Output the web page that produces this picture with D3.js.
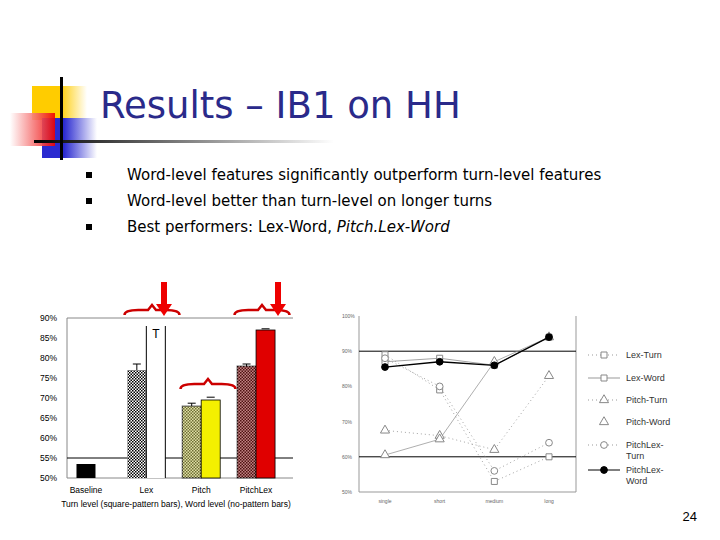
<!DOCTYPE html>
<html><head><meta charset="utf-8">
<script src="https://cdn.jsdelivr.net/npm/d3@7"></script>
<style>body{margin:0;background:#fff}svg{display:block;font-family:Arial,"Liberation Sans",sans-serif}</style>
</head><body><div id="slide"></div>
<script>
// Bar chart data
const barGroups = ["Baseline", "Lex", "Pitch", "PitchLex"];
const turnValues = [53.5, 77, 68, 78];
const wordValues = [null, 88, 69.5, 87];
const turnErr = [0, 1.5, 0.7, 0.5];
const wordErr = [0, 0, 0.7, 0.3];
const barColors = ["#000", "#fff", "#f4f000", "#e00000"];
const turnColors = ["#000", "#bbb", "#c8c860", "#902020"];
const barTicks = [50, 55, 60, 65, 70, 75, 80, 85, 90];

// Line chart data
const lenCats = ["single", "short", "medium", "long"];
const lexTurn = [89, 79, 53, 60];
const lexWord = [87, 88, 86, 94];
const pitchTurn = [67.5, 66, 62, 83];
const pitchWord = [60.5, 65, 87, 94];
const pitchLexTurn = [88, 80, 56, 64];
const pitchLexWord = [85.5, 87, 86, 94];
const lineTicks = [50, 60, 70, 80, 90, 100];

const bullets = [
  [{t: "Word-level features significantly outperform turn-level features"}],
  [{t: "Word-level better than turn-level on longer turns"}],
  [{t: "Best performers: Lex-Word, "}, {t: "Pitch.Lex-Word", i: true}]
];

const svg = d3.select("#slide").append("svg").attr("width", 720).attr("height", 540);
const defs = svg.append("defs");

// Decoration
const gy = defs.append("linearGradient").attr("id", "gy");
gy.append("stop").attr("offset", 0.5).attr("stop-color", "#ffcc00");
gy.append("stop").attr("offset", 1).attr("stop-color", "#fff");
const gb = defs.append("linearGradient").attr("id", "gb");
gb.append("stop").attr("offset", 0.4).attr("stop-color", "#2a2ad0");
gb.append("stop").attr("offset", 1).attr("stop-color", "#fff");
const gr = defs.append("linearGradient").attr("id", "gr").attr("x1", 1).attr("x2", 0);
gr.append("stop").attr("offset", 0).attr("stop-color", "#ee0000");
gr.append("stop").attr("offset", 1).attr("stop-color", "#fff");
const gl = defs.append("linearGradient").attr("id", "gl");
gl.append("stop").attr("offset", 0).attr("stop-color", "#000");
gl.append("stop").attr("offset", 1).attr("stop-color", "#fff");

svg.append("rect").attr("x", 32).attr("y", 86).attr("width", 55).attr("height", 34).attr("fill", "url(#gy)");
svg.append("rect").attr("x", 42).attr("y", 118).attr("width", 55).attr("height", 40).attr("fill", "url(#gb)");
svg.append("rect").attr("x", 10).attr("y", 113).attr("width", 45).attr("height", 33).attr("fill", "url(#gr)").attr("opacity", 0.9);
svg.append("rect").attr("x", 34).attr("y", 140).attr("width", 300).attr("height", 3).attr("fill", "url(#gl)");
svg.append("rect").attr("x", 60).attr("y", 77).attr("width", 3).attr("height", 83).attr("fill", "#000");

svg.append("text").attr("x", 100).attr("y", 118).attr("fill", "#2a2a8a")
  .style("font-family", "'DejaVu Sans',sans-serif").style("font-size", "37px").text("Results – IB1 on HH");

bullets.forEach((b, k) => {
  const y = 180 + k * 26;
  svg.append("rect").attr("x", 86).attr("y", y - 8).attr("width", 6).attr("height", 6).attr("fill", "#000");
  const t = svg.append("text").attr("x", 127).attr("y", y)
    .style("font-family", "'DejaVu Sans',sans-serif").style("font-size", "15px");
  b.forEach(p => t.append("tspan").style("font-style", p.i ? "italic" : null).text(p.t));
});

// Bar chart
const by = d3.scaleLinear().domain([50, 90]).range([478, 318]);
const bx = d3.scaleBand().domain(barGroups).range([67, 293]).paddingInner(0.08).paddingOuter(0.1);
const bw = 19;
const pat = defs.append("pattern").attr("id", "chk").attr("width", 3).attr("height", 3).attr("patternUnits", "userSpaceOnUse");
pat.append("rect").attr("width", 3).attr("height", 3).attr("fill", "#fff");
pat.append("rect").attr("width", 1.5).attr("height", 1.5).attr("fill", "#000");
pat.append("rect").attr("x", 1.5).attr("y", 1.5).attr("width", 1.5).attr("height", 1.5).attr("fill", "#000");

const bg = svg.append("g").style("font-size", "8.5px");
bg.append("line").attr("x1", 67).attr("x2", 67).attr("y1", 318).attr("y2", 478).attr("stroke", "#888");
bg.append("line").attr("x1", 67).attr("x2", 293).attr("y1", 318).attr("y2", 318).attr("stroke", "#888");
bg.append("line").attr("x1", 67).attr("x2", 293).attr("y1", 478).attr("y2", 478).attr("stroke", "#888");
bg.append("line").attr("x1", 67).attr("x2", 293).attr("y1", by(55)).attr("y2", by(55)).attr("stroke", "#000");
barTicks.forEach(v => bg.append("text").attr("x", 40).attr("y", by(v) + 3).text(v + "%"));

barGroups.forEach((g, i) => {
  const x0 = bx(g) + (i === 0 ? 4 : 0);
  const tv = turnValues[i];
  bg.append("rect").attr("x", x0).attr("y", by(tv)).attr("width", bw).attr("height", by(50) - by(tv))
    .attr("fill", i === 0 ? "#000" : "url(#chk)");
  if (i > 0) {
    bg.append("rect").attr("x", x0).attr("y", by(tv)).attr("width", bw).attr("height", by(50) - by(tv))
      .attr("fill", turnColors[i]).attr("opacity", i === 1 ? 0 : 0.55).attr("stroke", "#000").attr("stroke-opacity", 1);
    bg.append("line").attr("x1", x0 + bw / 2).attr("x2", x0 + bw / 2).attr("y1", by(tv)).attr("y2", by(tv + turnErr[i])).attr("stroke", "#000");
    bg.append("line").attr("x1", x0 + bw / 2 - 4).attr("x2", x0 + bw / 2 + 4).attr("y1", by(tv + turnErr[i])).attr("y2", by(tv + turnErr[i])).attr("stroke", "#000");
  }
  const wv = wordValues[i];
  if (wv != null) {
    const x1 = x0 + bw;
    if (i === 1) {
      bg.append("rect").attr("x", x1).attr("y", by(wv)).attr("width", bw).attr("height", by(50) - by(wv)).attr("fill", "#fff");
      bg.append("line").attr("x1", x1).attr("x2", x1).attr("y1", by(wv)).attr("y2", 478).attr("stroke", "#000");
      bg.append("line").attr("x1", x1 + bw).attr("x2", x1 + bw).attr("y1", by(wv)).attr("y2", 478).attr("stroke", "#000");
      bg.append("text").attr("x", x1 + bw / 2).attr("y", by(wv) + 12).attr("text-anchor", "middle").attr("fill", "#000").style("font-size", "12px").text("T");
    } else {
      bg.append("rect").attr("x", x1).attr("y", by(wv)).attr("width", bw).attr("height", by(50) - by(wv))
        .attr("fill", barColors[i]).attr("stroke", "#000").attr("stroke-width", 0.8);
      bg.append("line").attr("x1", x1 + bw / 2 - 4).attr("x2", x1 + bw / 2 + 4).attr("y1", by(wv + wordErr[i])).attr("y2", by(wv + wordErr[i])).attr("stroke", "#000");
    }
  }
  bg.append("text").attr("x", bx(g) + (i === 0 ? bw / 2 + 4 : bw)).attr("y", 493).attr("text-anchor", "middle").text(g);
});
bg.append("text").attr("x", 176).attr("y", 507).attr("text-anchor", "middle")
  .text("Turn level (square-pattern bars), Word level (no-pattern bars)");

// red brackets and arrows
function brace(cx, y, w) {
  svg.append("path").attr("fill", "none").attr("stroke", "#c00").attr("stroke-width", 2.5)
    .attr("d", `M${cx - w / 2},${y + 5} Q${cx - w / 2},${y} ${cx - w / 4},${y} L${cx - 4},${y} L${cx},${y - 5} L${cx + 4},${y} L${cx + w / 4},${y} Q${cx + w / 2},${y} ${cx + w / 2},${y + 5}`);
}
brace(152, 310, 55); brace(262, 310, 55); brace(208, 384, 55);
[164, 278].forEach(x => {
  svg.append("rect").attr("x", x - 3).attr("y", 282).attr("width", 6).attr("height", 24).attr("fill", "#e00");
  svg.append("path").attr("d", `M${x - 8},304 L${x + 8},304 L${x},316 Z`).attr("fill", "#e00");
});

// Line chart
const lx = d3.scalePoint().domain(lenCats).range([385, 549]);
const ly = d3.scaleLinear().domain([50, 100]).range([492, 316]);
const lg = svg.append("g").style("font-size", "5px").attr("fill", "#666");
lg.append("line").attr("x1", 359).attr("x2", 359).attr("y1", 316).attr("y2", 492).attr("stroke", "#999");
lg.append("line").attr("x1", 576).attr("x2", 576).attr("y1", 316).attr("y2", 492).attr("stroke", "#999");
lg.append("line").attr("x1", 359).attr("x2", 576).attr("y1", 492).attr("y2", 492).attr("stroke", "#999");
[60, 90].forEach(v => lg.append("line").attr("x1", 359).attr("x2", 576).attr("y1", ly(v)).attr("y2", ly(v)).attr("stroke", "#000"));
lineTicks.forEach(v => lg.append("text").attr("x", 342).attr("y", ly(v) + 2).text(v + "%"));
lenCats.forEach(c => lg.append("text").attr("x", lx(c)).attr("y", 503).attr("text-anchor", "middle").text(c));

const series = [
  {name: "Lex-Turn", vals: lexTurn, dash: "1,3", line: true, m: "square", fill: "#fff", stroke: "#888"},
  {name: "Lex-Word", vals: lexWord, dash: null, line: true, m: "square", fill: "#fff", stroke: "#888"},
  {name: "Pitch-Turn", vals: pitchTurn, dash: "1,3", line: true, m: "triangle", fill: "#fff", stroke: "#888"},
  {name: "Pitch-Word", vals: pitchWord, dash: null, line: false, m: "triangle", fill: "#fff", stroke: "#888"},
  {name: "PitchLex-Turn", vals: pitchLexTurn, dash: "1,3", line: true, m: "circle", fill: "#fff", stroke: "#888"},
  {name: "PitchLex-Word", vals: pitchLexWord, dash: null, line: true, m: "circle", fill: "#000", stroke: "#000"}
];
const sym = {square: d3.symbolSquare, triangle: d3.symbolTriangle, circle: d3.symbolCircle};
const lineGen = d3.line().x((d, i) => lx(lenCats[i])).y(d => ly(d));
// faint line through Pitch-Word points as in picture
lg.append("path").attr("d", lineGen(pitchWord)).attr("fill", "none").attr("stroke", "#999").attr("stroke-width", 0.8);
series.forEach(s => {
  if (s.line) lg.append("path").attr("d", lineGen(s.vals)).attr("fill", "none")
    .attr("stroke", s.stroke === "#000" ? "#000" : "#999").attr("stroke-width", s.stroke === "#000" ? 1.3 : 0.9)
    .attr("stroke-dasharray", s.dash);
  s.vals.forEach((v, i) => lg.append("path").attr("d", d3.symbol(sym[s.m], 36)())
    .attr("transform", `translate(${lx(lenCats[i])},${ly(v)})`).attr("fill", s.fill).attr("stroke", s.stroke));
});
// legend
const legY = [355, 378, 400, 422, 445, 470];
const legLabels = [["Lex-Turn"], ["Lex-Word"], ["Pitch-Turn"], ["Pitch-Word"], ["PitchLex-", "Turn"], ["PitchLex-", "Word"]];
series.forEach((s, k) => {
  const y = legY[k];
  if (s.line) lg.append("line").attr("x1", 588).attr("x2", 620).attr("y1", y).attr("y2", y)
    .attr("stroke", s.stroke === "#000" ? "#000" : "#999").attr("stroke-dasharray", s.dash);
  lg.append("path").attr("d", d3.symbol(sym[s.m], 36)()).attr("transform", `translate(604,${y})`).attr("fill", s.fill).attr("stroke", s.stroke);
  legLabels[k].forEach((t, j) => lg.append("text").attr("x", 626).attr("y", y + 3 + j * 11).attr("fill", "#333").style("font-size", "9px").text(t));
});

svg.append("text").attr("x", 697).attr("y", 521).attr("text-anchor", "end").style("font-size", "13px").text("24");
</script></body></html>
